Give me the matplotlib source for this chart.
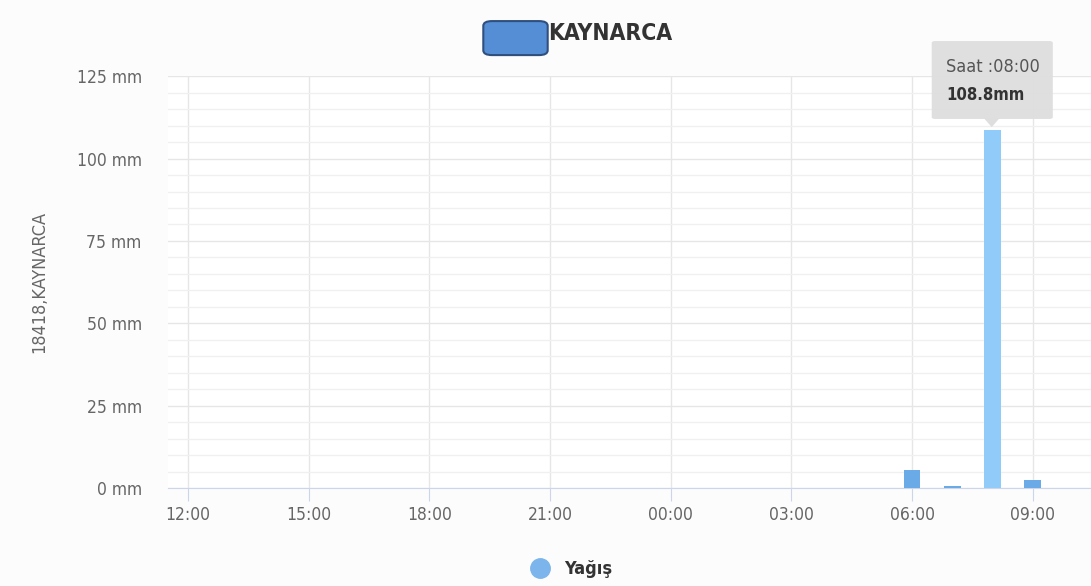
import matplotlib.pyplot as plt
from matplotlib.patches import FancyBboxPatch, Polygon
from matplotlib.lines import Line2D
from matplotlib.ticker import MultipleLocator

plt.rcParams['font.family'] = ['DejaVu Sans']
plt.rcParams['font.stretch'] = 'condensed'

# hourly rain, 12:00 -> 09:00 next day
hours = ["12:00", "13:00", "14:00", "15:00", "16:00", "17:00", "18:00", "19:00",
         "20:00", "21:00", "22:00", "23:00", "00:00", "01:00", "02:00", "03:00",
         "04:00", "05:00", "06:00", "07:00", "08:00", "09:00"]
rain = [0, 0, 0, 0, 0, 0, 0, 0, 0, 0, 0, 0, 0, 0, 0, 0, 0, 0, 5.5, 0.8, 108.8, 2.4]
tick_labels = ["12:00", "15:00", "18:00", "21:00", "00:00", "03:00", "06:00", "09:00"]
y_ticks = [0, 25, 50, 75, 100, 125]

fig = plt.figure(figsize=(10.91, 5.86), dpi=100)
fig.patch.set_facecolor('#fcfcfc')
ax = fig.add_axes([0.154, 0.167, 0.846, 0.703])
ax.set_facecolor('white')

x = list(range(len(hours)))
colors = ['#6aaae6'] * len(x)
colors[20] = '#91cbf9'
ax.bar(x, rain, width=0.42, color=colors, zorder=3)

ax.set_xlim(-0.5, 22.45)
ax.set_ylim(0, 125)
ax.set_xticks([hours.index(t) for t in tick_labels])
ax.set_xticklabels(tick_labels)
ax.set_yticks(y_ticks)
ax.set_yticklabels([f"{v} mm" for v in y_ticks])
ax.yaxis.set_minor_locator(MultipleLocator(5))
ax.grid(which='major', color='#e6e6e6', lw=1, zorder=0)
ax.grid(which='minor', axis='y', color='#f0f0f0', lw=1, zorder=0)
for s in ['top', 'right', 'left']:
    ax.spines[s].set_visible(False)
ax.spines['bottom'].set_color('#ccd6eb')
ax.tick_params(axis='x', colors='#ccd6eb', length=9, labelcolor='#666666', labelsize=12.5, pad=4)
ax.tick_params(axis='y', length=0, labelcolor='#666666', labelsize=12.5, pad=19)
ax.tick_params(which='minor', length=0)
ax.set_ylabel("18418,KAYNARCA", color='#666666', fontsize=13)
ax.yaxis.set_label_coords(-0.13, 0.5)

# title with covered box
fig.text(0.502, 0.943, "KAYNARCA", fontsize=16.5, fontweight='bold', color='#333333',
         ha='left', va='center')
fig.patches.append(FancyBboxPatch((0.445, 0.908), 0.055, 0.054, boxstyle="round,pad=0.002,rounding_size=0.008",
                                  transform=fig.transFigure, facecolor='#558ed5',
                                  edgecolor='#2f4f7f', lw=1.5))

# tooltip
fig.patches.append(FancyBboxPatch((0.854, 0.797), 0.111, 0.133, boxstyle="round,pad=0,rounding_size=0.003",
                                  transform=fig.transFigure, facecolor='#dedede',
                                  edgecolor='none', alpha=0.95))
fig.patches.append(Polygon([(0.902, 0.798), (0.916, 0.798), (0.909, 0.783)],
                           transform=fig.transFigure, facecolor='#dedede', edgecolor='none'))
fig.text(0.867, 0.886, "Saat :08:00", fontsize=13, color='#555555', va='center')
fig.text(0.867, 0.838, "108.8mm", fontsize=12, fontweight='bold', color='#333333', va='center')

# legend
fig.add_artist(Line2D([0.495], [0.031], marker='o', markersize=14, color='#7cb5ec',
                      linestyle='none', transform=fig.transFigure))
fig.text(0.517, 0.029, "Yağış", fontsize=13, fontweight='bold', color='#333333', va='center')

fig.savefig('out.png', dpi=100, facecolor=fig.get_facecolor())
